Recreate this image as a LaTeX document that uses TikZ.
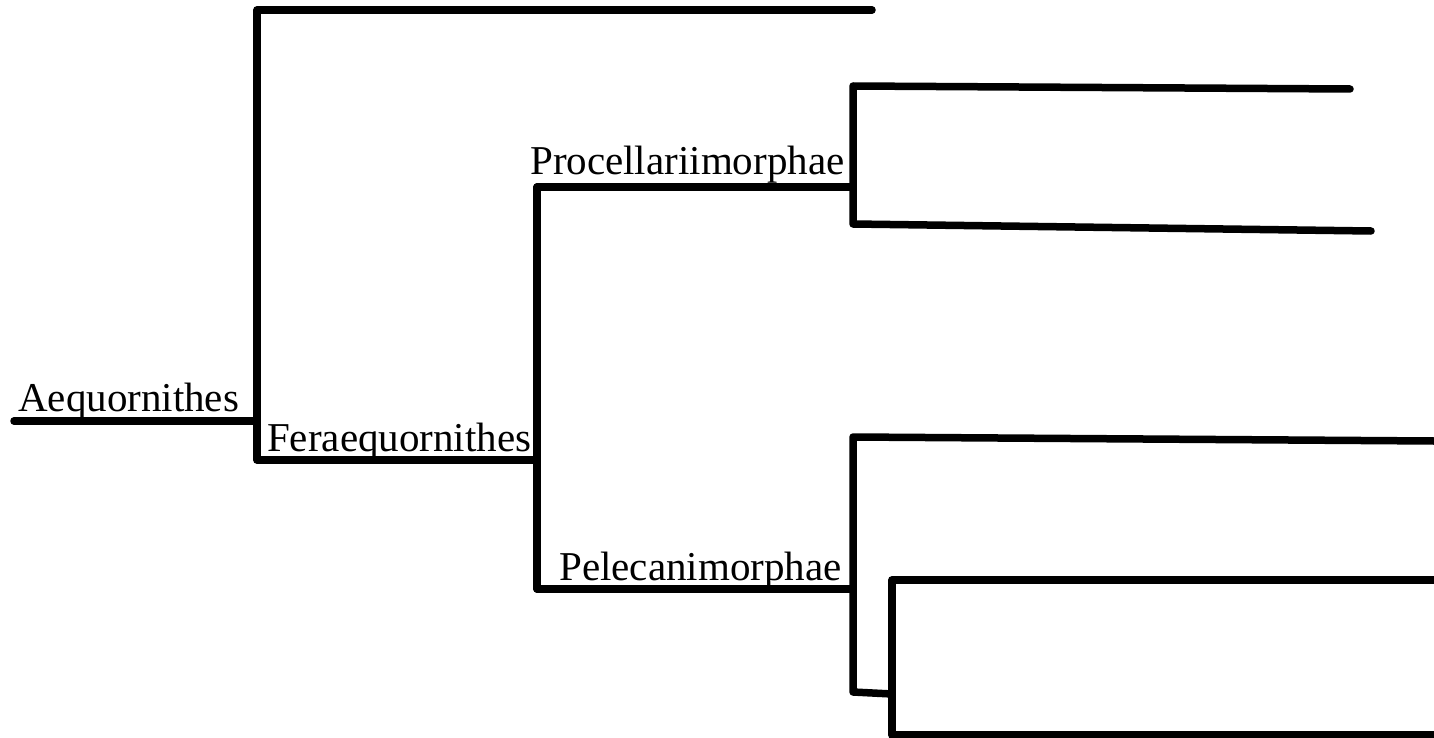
\documentclass[tikz,border=0pt]{standalone}
\usepackage{fontspec}
\setmainfont{Liberation Serif}
\begin{document}
\begin{tikzpicture}[x=1pt,y=-1pt,
  branch/.style={line width=7.5pt,line cap=round,line join=round},
  lbl/.style={anchor=base west,inner sep=0pt,font=\fontsize{41}{41}\selectfont}]
\useasboundingbox (0,0) rectangle (1434,738);
% junctions and tips
\coordinate (root) at (14,421);
\coordinate (r1) at (257,421);
\coordinate (a1) at (257,10);
\coordinate (a2) at (257,460);
\coordinate (t1) at (872,10);
\coordinate (f1) at (537,460);
\coordinate (fp) at (537,187);
\coordinate (fq) at (537,589);
\coordinate (p1) at (853,187);
\coordinate (pa) at (853,86);
\coordinate (pb) at (853,224);
\coordinate (ta) at (1350,89);
\coordinate (tb) at (1371,231);
\coordinate (q1) at (853,589);
\coordinate (qa) at (853,437);
\coordinate (qb) at (853,692);
\coordinate (tq) at (1434,441);
\coordinate (s1) at (892,694);
\coordinate (sa) at (892,580);
\coordinate (sb) at (892,735);
\coordinate (ts) at (1434,580);
\coordinate (tt) at (1434,735);
% branches
\draw[branch] (root) -- (r1);
\draw[branch] (t1) -- (a1) -- (a2) -- (f1);
\draw[branch] (fp) -- (fq);
\draw[branch] (fp) -- (p1);
\draw[branch] (ta) -- (pa) -- (pb) -- (tb);
\draw[branch] (fq) -- (q1);
\draw[branch] (tq) -- (qa) -- (qb) -- (s1);
\draw[branch] (ts) -- (sa) -- (sb) -- (tt);
% labels
\node[lbl] (la) at (18,411) {Aequornithes};
\node[lbl] (lf) at (267,451) {Feraequornithes};
\node[lbl] (lp) at (530,175) {Procellariimorphae};
\node[lbl] (lq) at (559,580) {Pelecanimorphae};
\end{tikzpicture}
\end{document}
